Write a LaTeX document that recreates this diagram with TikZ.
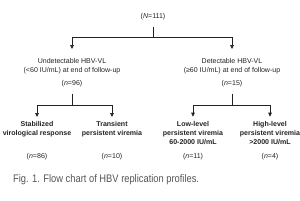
\documentclass[tikz,border=0pt]{standalone}
\usepackage{fontspec}
\setmainfont{Liberation Sans}
\newfontfamily\capfont[FakeStretch=0.85]{Liberation Sans}
\usepackage{tikz}
\usetikzlibrary{arrows.meta}
\definecolor{ink}{HTML}{222222}
\definecolor{capgray}{HTML}{555555}

\begin{document}
\begin{tikzpicture}[x=0.4mm,y=-0.4mm,every node/.style={font=\fontsize{8}{10.2}\selectfont,align=center,text=ink,inner xsep=1pt},head/.style={inner ysep=3.6mm},sub/.style={font=\fontsize{8}{10.2}\selectfont\bfseries,inner ysep=1.8mm},cnt/.style={inner ysep=2.5mm},link/.style={draw=ink,line width=0.75pt},arr/.style={link,-{Triangle[length=1.6mm,width=1.4mm]}}]
\useasboundingbox (0,0) rectangle (300,200);
\node[cnt] (all) at (153,17) {(\textit{N}=111)};
\node[head] (undet) at (72,66) {Undetectable HBV-VL\\(<60 IU/mL) at end of follow-up};
\node[head] (det) at (232,66) {Detectable HBV-VL\\(≥60 IU/mL) at end of follow-up};
\node[cnt] (n96) at (72,84) {(\textit{n}=96)};
\node[cnt] (n15) at (232,84) {(\textit{n}=15)};
\node[sub] (stab) at (37,129.5) {Stabilized\\virological response};
\node[sub] (trans) at (112,129.5) {Transient\\persistent viremia};
\node[sub] (low) at (193,133) {Low-level\\persistent viremia\\60-2000 IU/mL};
\node[sub] (high) at (270,133) {High-level\\persistent viremia\\>2000 IU/mL};
\node (n86) at (37,157) {(\textit{n}=86)};
\node (n10) at (112,157) {(\textit{n}=10)};
\node (n11) at (193,157) {(\textit{n}=11)};
\node (n4) at (270,157) {(\textit{n}=4)};
\node[anchor=west,font=\capfont\fontsize{12.5}{14}\selectfont,text=capgray,inner sep=0pt] (cap) at (13,180) {Fig. 1. Flow chart of HBV replication profiles.};
% branch points
\coordinate (j0) at (153,37);
\coordinate (j1) at (72,105);
\coordinate (j2) at (232,105);
\draw[link] (all) -- (j0);
\draw[arr] (j0) -| (undet);
\draw[arr] (j0) -| (det);
\draw[link] (n96) -- (j1);
\draw[arr] (j1) -| (stab);
\draw[arr] (j1) -| (trans);
\draw[link] (n15) -- (j2);
\draw[arr] (j2) -| (low);
\draw[arr] (j2) -| (high);
\end{tikzpicture}
\end{document}
